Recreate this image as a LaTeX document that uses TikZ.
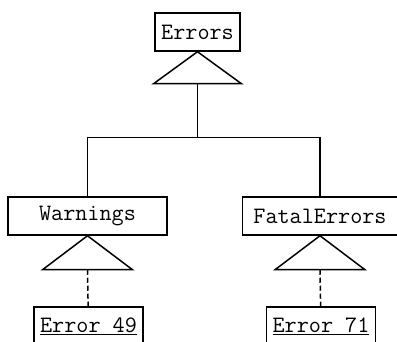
\documentclass[tikz,border=0pt]{standalone}
\usepackage{fontspec}
\usetikzlibrary{calc}

\begin{document}
\begin{tikzpicture}[x=1pt,y=-1pt,line width=1.5pt,
  cls/.style={draw,font=\ttfamily\fontsize{23.5}{26}\selectfont,minimum height=38pt,inner xsep=6pt}]
\useasboundingbox (0,0) rectangle (397,342);
\node[cls] (err) at (197.5,32) {Errors};
\node[cls,minimum width=159pt] (warn) at (87.5,216) {Warnings};
\node[cls,minimum width=155pt] (fatal) at (320,216) {FatalErrors};
\node[cls] (e49) at (88.5,326) {\underline{Error 49}};
\node[cls] (e71) at (321,326) {\underline{Error 71}};
% inheritance triangles
\foreach \n/\w/\h in {err/44/32,warn/45/34,fatal/45/34}{
  \draw (\n.south) -- ++(-\w,\h) -- ++(2*\w,0) -- cycle;
  \coordinate (\n-b) at ($(\n.south)+(0,\h)$);
}
\coordinate (fork) at ($(err-b)+(0,54)$);
\draw (err-b) -- (fork);
\draw (warn.north) |- (fork) -| (fatal.north);
\draw[dash pattern=on 5pt off 3pt] (warn-b) -- (e49);
\draw[dash pattern=on 5pt off 3pt] (fatal-b) -- (e71);
\end{tikzpicture}
\end{document}
